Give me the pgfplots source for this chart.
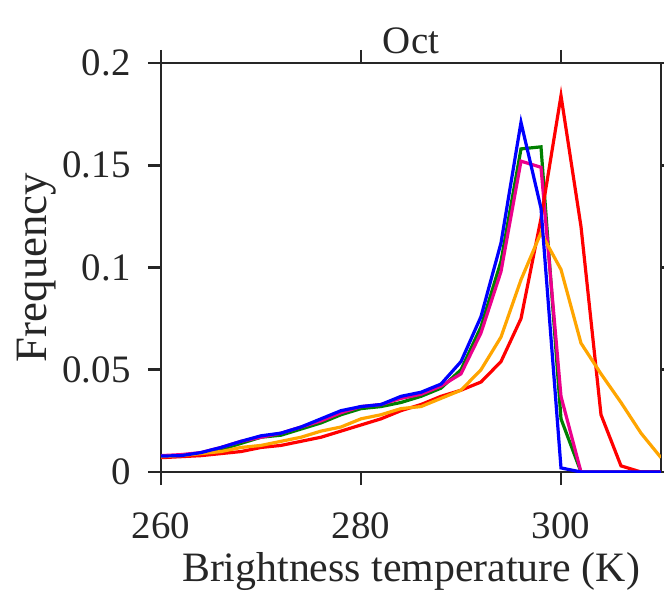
\documentclass[border=0pt]{standalone}
\usepackage{fontspec}
\setmainfont{Liberation Serif}
\usepackage{pgfplots}
\pgfplotsset{compat=1.18}
\definecolor{axgray}{HTML}{262626}
\definecolor{morange}{HTML}{FFA500}
\definecolor{mgreen}{rgb}{0,0.5,0}
\newcommand{\bigf}{\fontsize{39}{44}\selectfont}
\newcommand{\labf}{\fontsize{42}{46}\selectfont}
\begin{document}
\begin{tikzpicture}
\begin{axis}[
  at={(0,0)}, anchor=south west,
  scale only axis, width=500bp, height=409bp,
  xmin=260, xmax=310, ymin=0, ymax=0.2,
  xtick={260,280,300},
  ytick={0,0.05,0.1,0.15,0.2},
  yticklabels={0,0.05,0.1,0.15,0.2},
  tick align=outside, major tick length=13bp,
  axis line style={axgray, line width=2.8bp},
  tick style={axgray, line width=2.8bp},
  every tick label/.append style={font=\bigf, text=axgray},
  xticklabel style={yshift=-24bp},
  yticklabel style={xshift=-14bp},
  /pgf/number format/assume math mode=true,
  xlabel style={font=\labf, text=axgray, yshift=-7bp},
  ylabel style={font=\fontsize{45}{48}\selectfont, text=axgray, yshift=-1bp},
  title style={font=\bigf, text=axgray},
  title={Oct},
  xlabel={Brightness temperature (K)},
  ylabel={Frequency},
  every axis plot/.append style={line width=3.2bp, mark=none},
]
% green
\addplot[mgreen] coordinates {
(260,0.0075) (262,0.008) (264,0.009) (266,0.011) (268,0.014) (270,0.017)
(272,0.018) (274,0.021) (276,0.024) (278,0.028) (280,0.031) (282,0.032)
(284,0.034) (286,0.037) (288,0.041) (290,0.050) (292,0.071) (294,0.103)
(296,0.158) (298,0.159) (300,0.026) (302,0) (304,0) (306,0) (308,0) (310,0)};
% magenta
\addplot[magenta] coordinates {
(260,0.008) (262,0.0085) (264,0.0095) (266,0.012) (268,0.015) (270,0.017)
(272,0.019) (274,0.022) (276,0.025) (278,0.029) (280,0.032) (282,0.033)
(284,0.036) (286,0.038) (288,0.042) (290,0.048) (292,0.068) (294,0.098)
(296,0.152) (298,0.149) (300,0.037) (302,0) (304,0) (306,0) (308,0) (310,0)};
% red
\addplot[red] coordinates {
(260,0.007) (262,0.0075) (264,0.008) (266,0.009) (268,0.010) (270,0.012)
(272,0.013) (274,0.015) (276,0.017) (278,0.020) (280,0.023) (282,0.026)
(284,0.030) (286,0.033) (288,0.037) (290,0.040) (292,0.044) (294,0.054)
(296,0.075) (298,0.124) (300,0.184) (302,0.120) (304,0.028) (306,0.003) (308,0) (310,0)};
% orange
\addplot[morange] coordinates {
(260,0.0075) (262,0.008) (264,0.009) (266,0.010) (268,0.012) (270,0.013)
(272,0.015) (274,0.017) (276,0.020) (278,0.022) (280,0.026) (282,0.028)
(284,0.031) (286,0.032) (288,0.036) (290,0.040) (292,0.050) (294,0.066)
(296,0.094) (298,0.117) (300,0.099) (302,0.063) (304,0.048) (306,0.034) (308,0.019) (310,0.007)};
% blue
\addplot[blue] coordinates {
(260,0.0078) (262,0.008) (264,0.0095) (266,0.012) (268,0.015) (270,0.0177)
(272,0.019) (274,0.022) (276,0.026) (278,0.030) (280,0.032) (282,0.033)
(284,0.037) (286,0.039) (288,0.043) (290,0.054) (292,0.076) (294,0.112)
(296,0.171) (298,0.129) (300,0.002) (302,0) (304,0) (306,0) (308,0) (310,0)};
\end{axis}
\pgfresetboundingbox
\path[use as bounding box] (-161bp,-127bp) rectangle (503bp,472bp);
\end{tikzpicture}
\end{document}
